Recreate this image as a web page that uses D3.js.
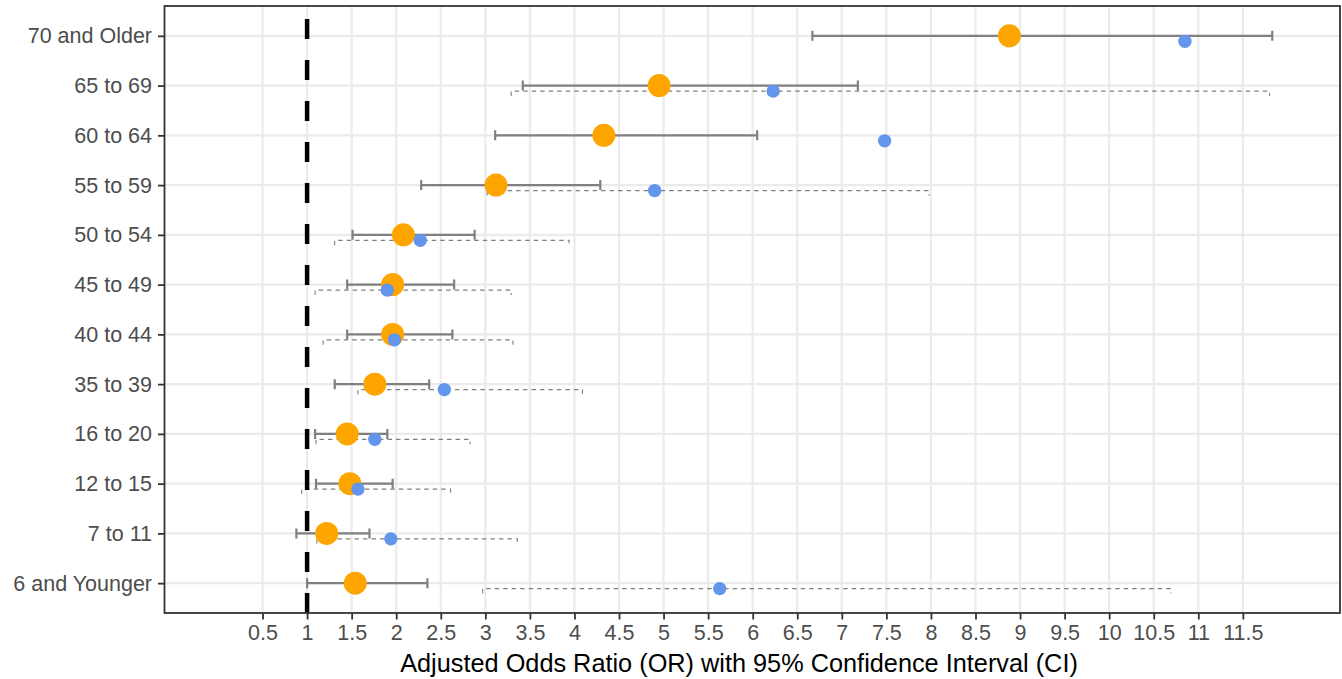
<!DOCTYPE html>
<html>
<head>
<meta charset="utf-8">
<script src="https://cdn.jsdelivr.net/npm/d3@7"></script>
<style>
  body { margin: 0; background: #fff; }
  svg { display: block; font-family: "Liberation Sans", Arial, Helvetica, sans-serif; }
</style>
</head>
<body>
<div id="chart"></div>
<script>
// age groups, top to bottom
const categories = ["70 and Older", "65 to 69", "60 to 64", "55 to 59", "50 to 54", "45 to 49",
  "40 to 44", "35 to 39", "16 to 20", "12 to 15", "7 to 11", "6 and Younger"]

// orange series (solid CI)
const orA = [8.88, 4.95, 4.33, 3.12, 2.08, 1.96, 1.96, 1.76, 1.45, 1.48, 1.22, 1.54]
const loA = [6.67, 3.42, 3.11, 2.28, 1.51, 1.45, 1.45, 1.31, 1.09, 1.10, 0.88, 1.00]
const hiA = [11.83, 7.18, 6.05, 4.29, 2.88, 2.65, 2.63, 2.37, 1.90, 1.96, 1.70, 2.35]

// blue series (dashed CI), null = no interval drawn
const orB = [10.85, 6.23, 7.48, 4.90, 2.27, 1.90, 1.98, 2.54, 1.76, 1.57, 1.94, 5.63]
const loB = [null, 3.29, null, 3.02, 1.31, 1.09, 1.18, 1.57, 1.10, 0.94, 1.11, 2.97]
const hiB = [null, 11.80, null, 7.98, 3.94, 3.29, 3.31, 4.09, 2.83, 2.61, 3.36, 10.69]

const xTicks = d3.range(0.5, 11.51, 0.5)
const xTitle = "Adjusted Odds Ratio (OR) with 95% Confidence Interval (CI)"

const width = 1342, height = 679
const panel = {left: 164.5, right: 1340, top: 6, bottom: 613}

let svg = d3.select('#chart').append('svg')
  .attr('width', width)
  .attr('height', height)

let x = d3.scaleLinear()
  .domain([-0.6, 12.59])
  .range([panel.left, panel.right])

let y = d3.scalePoint()
  .domain(categories)
  .range([panel.top, panel.bottom])
  .padding(0.6)

const dodge = y.step() * 0.11

let rows = categories.map((c, i) => ({
  cat: c, a: orA[i], aLo: loA[i], aHi: hiA[i], b: orB[i], bLo: loB[i], bHi: hiB[i]
}))

// grid
let grid = svg.append('g').attr('class', 'grid')
grid.selectAll('.vgrid')
  .data(xTicks)
  .enter().append('line')
  .attr('x1', d => x(d)).attr('x2', d => x(d))
  .attr('y1', panel.top).attr('y2', panel.bottom)
  .style('stroke', '#ebebeb').style('stroke-width', 2.2)
grid.selectAll('.hgrid')
  .data(categories)
  .enter().append('line')
  .attr('x1', panel.left).attr('x2', panel.right)
  .attr('y1', d => y(d)).attr('y2', d => y(d))
  .style('stroke', '#ebebeb').style('stroke-width', 2.2)

// dashed CI (blue series)
let dashed = rows.filter(d => d.bLo != null)
let dg = svg.append('g')
dg.selectAll('path')
  .data(dashed)
  .enter().append('path')
  .attr('d', d => {
    let yy = y(d.cat) + dodge
    return `M${x(d.bLo)},${yy + 5}V${yy}H${x(d.bHi)}V${yy + 5}`
  })
  .style('fill', 'none')
  .style('stroke', '#808080')
  .style('stroke-width', 1.1)
  .style('stroke-dasharray', '4.5,4')

// solid CI (orange series)
let sg = svg.append('g')
sg.selectAll('path')
  .data(rows)
  .enter().append('path')
  .attr('d', d => {
    let yy = y(d.cat)
    return `M${x(d.aLo)},${yy - 5}V${yy + 5}M${x(d.aLo)},${yy}H${x(d.aHi)}M${x(d.aHi)},${yy - 5}V${yy + 5}`
  })
  .style('fill', 'none')
  .style('stroke', '#808080')
  .style('stroke-width', 2.2)

// reference line at OR = 1
svg.append('line')
  .attr('x1', x(1)).attr('x2', x(1))
  .attr('y1', panel.bottom).attr('y2', panel.top)
  .style('stroke', '#000')
  .style('stroke-width', 4.5)
  .style('stroke-dasharray', '20,21')

// points
svg.append('g').selectAll('circle')
  .data(rows)
  .enter().append('circle')
  .attr('cx', d => x(d.a))
  .attr('cy', d => y(d.cat))
  .attr('r', 11.5)
  .style('fill', '#ffa500')

svg.append('g').selectAll('circle')
  .data(rows)
  .enter().append('circle')
  .attr('cx', d => x(d.b))
  .attr('cy', d => y(d.cat) + dodge)
  .attr('r', 6.7)
  .style('fill', '#6495ed')

// panel border
svg.append('rect')
  .attr('x', panel.left).attr('y', panel.top)
  .attr('width', panel.right - panel.left)
  .attr('height', panel.bottom - panel.top)
  .style('fill', 'none')
  .style('stroke', '#333')
  .style('stroke-width', 1.8)

// axes
let xAxis = svg.append('g')
  .attr('transform', `translate(0,${panel.bottom})`)
  .call(d3.axisBottom(x).tickValues(xTicks).tickSize(6.5).tickPadding(5).tickFormat(d3.format('~g')))
let yAxis = svg.append('g')
  .attr('transform', `translate(${panel.left},0)`)
  .call(d3.axisLeft(y).tickSize(6.5).tickPadding(6))

for (let ax of [xAxis, yAxis]) {
  ax.select('.domain').remove()
  ax.selectAll('.tick line').style('stroke', '#333').style('stroke-width', 1.8)
  ax.selectAll('.tick text')
    .style('fill', '#4d4d4d')
    .style('font-size', '21.5px')
    .style('font-family', '"Liberation Sans", Arial, Helvetica, sans-serif')
}

svg.append('text')
  .attr('x', 739)
  .attr('y', 672)
  .attr('text-anchor', 'middle')
  .style('font-size', '25.3px')
  .style('fill', '#000')
  .text(xTitle)
</script>
</body>
</html>
